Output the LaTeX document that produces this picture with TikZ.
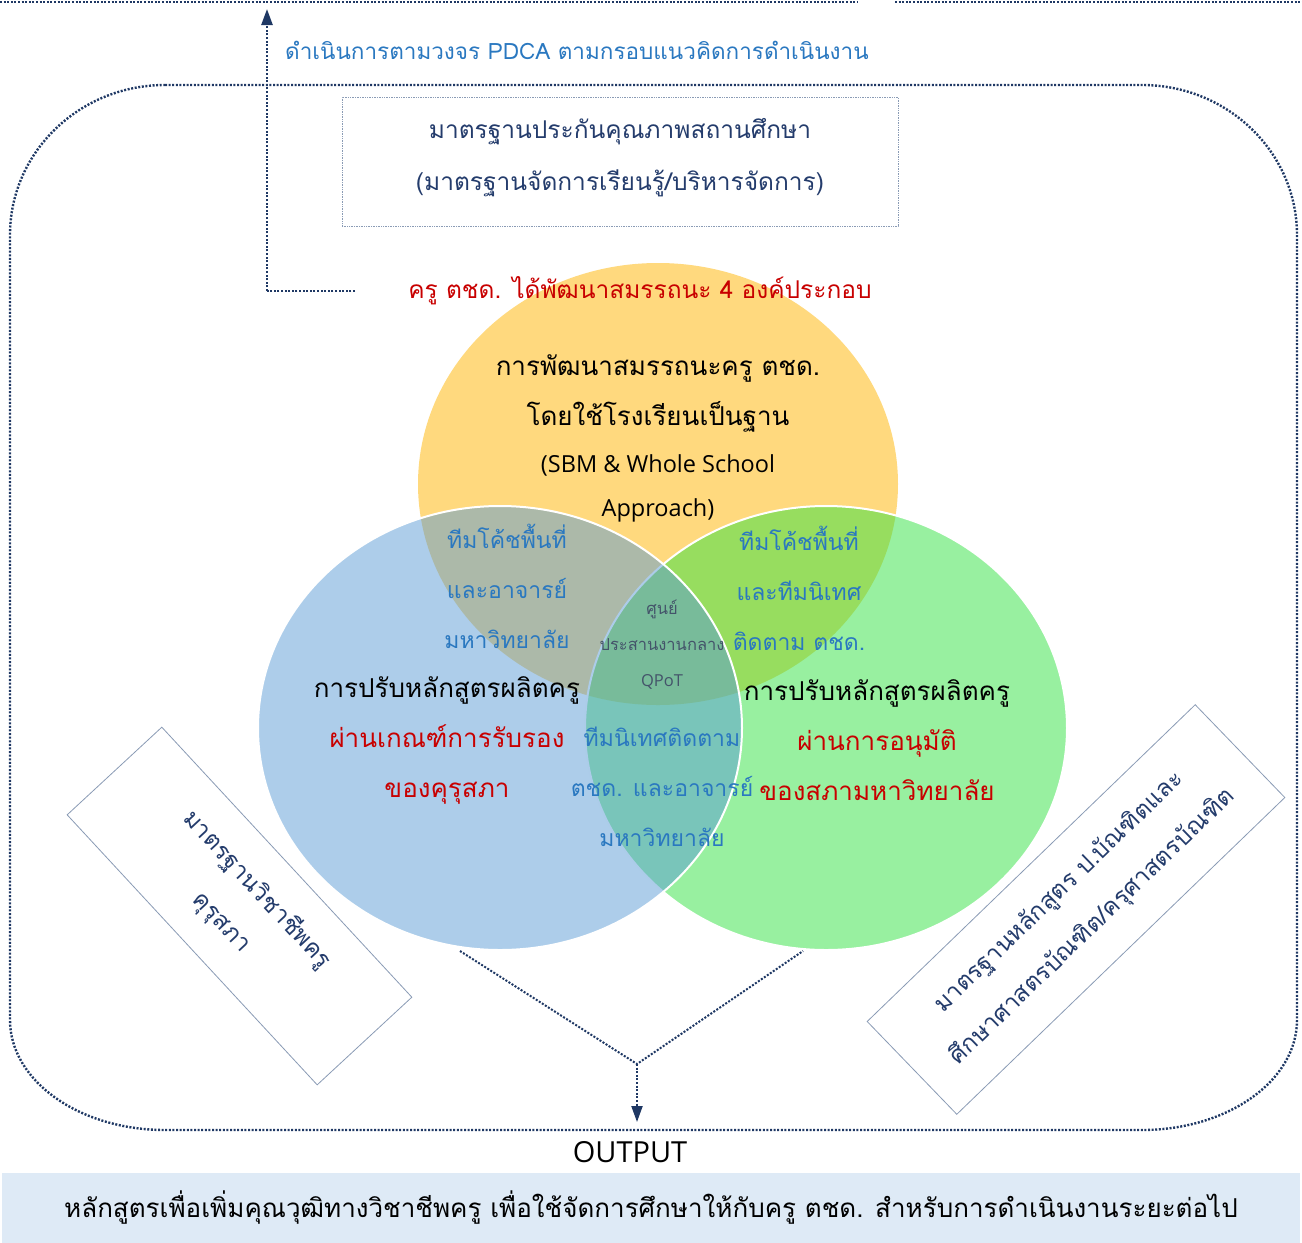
\documentclass[tikz,border=0pt]{standalone}
\usepackage{fontspec}
\setmainfont[Script=Thai]{Loma}
\newfontfamily\latinfont{Open Sans}
\usetikzlibrary{arrows.meta}
\definecolor{navy}{HTML}{1F3864}
\definecolor{teamblue}{HTML}{2A78C0}
\definecolor{redtxt}{HTML}{C80000}
\definecolor{boxtxt}{HTML}{243C6C}
\definecolor{slate}{HTML}{44546A}
\definecolor{boxline}{HTML}{8A9BB5}
\definecolor{yellowc}{HTML}{FFD97E}
\definecolor{greenc}{HTML}{31E141}
\definecolor{bluec}{HTML}{5B9BD5}
\definecolor{bandc}{HTML}{DEEAF6}
\tikzset{
  navydot/.style={draw=navy, line width=2.4pt, dash pattern=on 2pt off 1.6pt},
  arrowtip/.style={-{Triangle[length=16pt,width=11pt]}},
  bigtxt/.style={font=\fontsize{26}{50}\selectfont, align=center, inner sep=0pt},
  teamtxt/.style={font=\fontsize{23}{50}\selectfont, align=center, inner sep=0pt, text=teamblue},
  tiltbox/.style={draw=boxline, line width=0.8pt, fill=white, align=center, text=boxtxt,
     font=\fontsize{24}{48}\selectfont, minimum height=129pt, inner sep=0pt},
}
\begin{document}
\begin{tikzpicture}[x=1pt,y=-1pt]
\useasboundingbox (0,0) rectangle (1302,1243);
% output band
\fill[bandc] (2,1173) rectangle (1300,1243);
% top dotted line
\coordinate (topA) at (0,2); \coordinate (topB) at (857,2);
\coordinate (topC) at (895,2); \coordinate (topD) at (1302,2);
\draw[navydot] (topA) -- (topB);
\draw[navydot] (topC) -- (topD);
% big rounded frame
\draw[navydot] (165,85) -- (1142,85)
  .. controls (1227.6,85) and (1297,152.2) .. (1297,235)
  -- (1297,1020)
  .. controls (1297,1080.75) and (1227.6,1130) .. (1142,1130)
  -- (165,1130)
  .. controls (79.4,1130) and (10,1080.75) .. (10,1020)
  -- (10,235)
  .. controls (10,152.2) and (79.4,85) .. cycle;
% quality box
\node[draw=boxline, line width=0.7pt, densely dotted, minimum width=556pt, minimum height=129pt,
      inner sep=0pt] (qabox) at (620,161.5) {};
\node[font=\fontsize{24.5}{52}\selectfont, align=center, inner sep=0pt, text=boxtxt] (qatext) at (620,158) {มาตรฐานประกันคุณภาพสถานศึกษา\\(มาตรฐานจัดการเรียนรู้/บริหารจัดการ)};
% circles
\fill[yellowc] (658,484) ellipse [x radius=240pt, y radius=221pt];
\filldraw[fill=greenc, fill opacity=0.5, draw=white, line width=2pt] (826,728) ellipse [x radius=241pt, y radius=222pt];
\filldraw[fill=bluec, fill opacity=0.5, draw=white, line width=2pt] (500,728) ellipse [x radius=242pt, y radius=222pt];
% PDCA connector
\coordinate (pdcaStart) at (355,291);
\coordinate (pdcaCorner) at (267,291);
\coordinate (pdcaEnd) at (267,9);
\draw[navydot] (pdcaStart) -- (pdcaCorner);
\draw[navydot, arrowtip] (pdcaCorner) -- (pdcaEnd);
\node[font=\fontsize{22.5}{26}\selectfont, text=teamblue, anchor=west, inner sep=0pt] (pdca) at (285,50)
  {ดำเนินการตามวงจร PDCA ตามกรอบแนวคิดการดำเนินงาน};
% title
\node[font=\fontsize{24.5}{30}\selectfont, inner sep=0pt, text=redtxt] (title) at (640,291) {ครู ตชด. ได้พัฒนาสมรรถนะ 4 องค์ประกอบ};
% yellow text
\node[bigtxt, text=black] (ytext) at (658,393) {การพัฒนาสมรรถนะครู ตชด.\\โดยใช้โรงเรียนเป็นฐาน};
\node[font=\latinfont\fontsize{23.5}{44}\selectfont, align=center, inner sep=0pt] (ytext2) at (658,488) {(SBM \& Whole School\\Approach)};
% overlaps
\node[teamtxt] (byo) at (507,586) {ทีมโค้ชพื้นที่\\และอาจารย์\\มหาวิทยาลัย};
\node[teamtxt] (gyo) at (799,588) {ทีมโค้ชพื้นที่\\และทีมนิเทศ\\ติดตาม ตชด.};
\node[font=\fontsize{16.5}{36}\selectfont, align=center, inner sep=0pt, text=slate] (center) at (662,645)
  {ศูนย์\\ประสานงานกลาง\\{\latinfont QPoT}};
\node[teamtxt] (bgo) at (662,787) {ทีมนิเทศติดตาม\\ตชด. และอาจารย์\\มหาวิทยาลัย};
% circle main texts
\node[bigtxt] (btext) at (447,740) {การปรับหลักสูตรผลิตครู\\{\color{redtxt}ผ่านเกณฑ์การรับรอง}\\{\color{redtxt}ของคุรุสภา}};
\node[bigtxt] (gtext) at (877,740) {การปรับหลักสูตรผลิตครู\\{\color{redtxt}ผ่านการอนุมัติ}\\{\color{redtxt}ของสภามหาวิทยาลัย}};
% tilted boxes
\node[tiltbox, minimum width=368pt, rotate=-47.2] (leftbox) at (239.5,906) {มาตรฐานวิชาชีพครู\\คุรุสภา};
\node[tiltbox, minimum width=456pt, rotate=44] (rightbox) at (1076,909.5) {มาตรฐานหลักสูตร ป.บัณฑิตและ\\ศึกษาศาสตรบัณฑิต/ครุศาสตรบัณฑิต};
% V connector to output
\coordinate (vL) at (460,951);
\coordinate (vR) at (803,951);
\coordinate (vApex) at (637,1064);
\coordinate (outTip) at (637,1122);
\draw[navydot, line width=2pt] (vL) -- (vApex) -- (vR);
\draw[navydot, line width=2pt, arrowtip] (vApex) -- (outTip);
% output
\node[font=\latinfont\fontsize{29}{32}\selectfont, inner sep=0pt] (output) at (630,1152) {OUTPUT};
\node[bigtxt] (result) at (651,1208) {หลักสูตรเพื่อเพิ่มคุณวุฒิทางวิชาชีพครู เพื่อใช้จัดการศึกษาให้กับครู ตชด. สำหรับการดำเนินงานระยะต่อไป};
\end{tikzpicture}
\end{document}
